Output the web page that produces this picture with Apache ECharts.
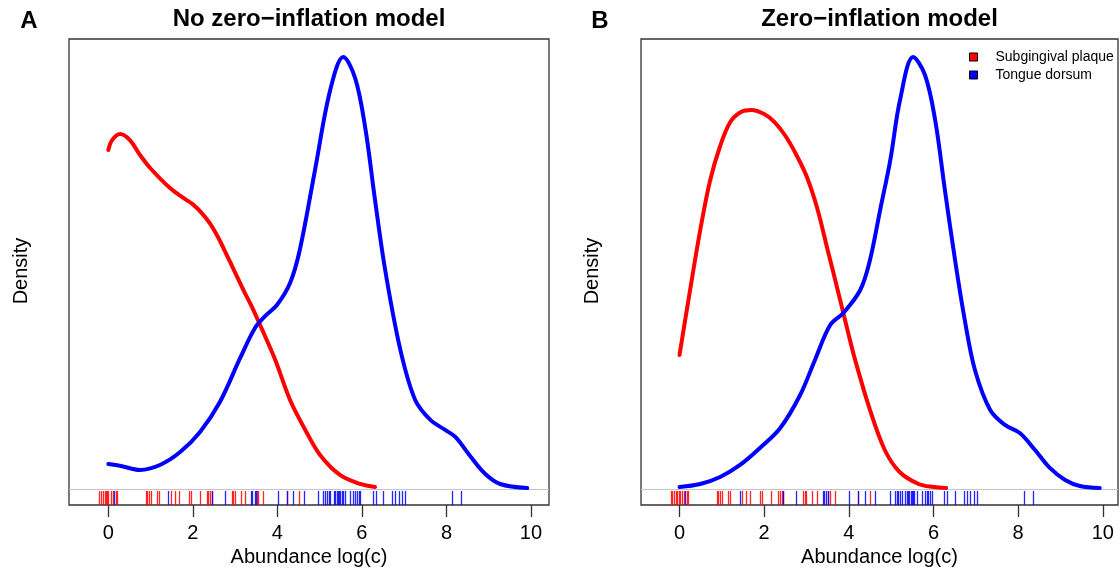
<!DOCTYPE html>
<html>
<head>
<meta charset="utf-8">
<title>Abundance density: no zero-inflation vs zero-inflation model</title>
<script src="https://cdn.jsdelivr.net/npm/echarts@6/dist/echarts.min.js"></script>
<style>
  html, body { margin: 0; padding: 0; background: #ffffff; }
  #chart { width: 1120px; height: 573px; }
</style>
</head>
<body>
<div id="chart"></div>
<script>
// ---- data -------------------------------------------------------------
const xTicks = [0, 2, 4, 6, 8, 10];
const groupNames = ['Subgingival plaque', 'Tongue dorsum'];
const panelTitles = ['No zero\u2212inflation model', 'Zero\u2212inflation model'];
const panelLetters = ['A', 'B'];

// kernel density estimates, [log abundance, density]
const noZiPlaque = [
  [0, 0.3531], [0.09, 0.3635], [0.28, 0.3698], [0.51, 0.3635], [0.75, 0.3479],
  [0.99, 0.3344], [1.46, 0.3135], [1.8, 0.3025], [2.0, 0.2965], [2.2, 0.2880],
  [2.4, 0.2770], [2.6, 0.2620], [2.8, 0.2440], [3.0, 0.2255], [3.2, 0.2070],
  [3.4, 0.1895], [3.6, 0.1700], [3.95, 0.1344], [4.30, 0.0927], [4.66, 0.0615],
  [5.01, 0.0354], [5.48, 0.0146], [5.96, 0.0052], [6.31, 0.0021]
];
const noZiTongue = [
  [0, 0.0260], [0.30, 0.0240], [0.75, 0.0198], [1.22, 0.0250], [1.70, 0.0385],
  [2.17, 0.0594], [2.64, 0.0906], [3.12, 0.1365], [3.47, 0.1677], [3.71, 0.1802],
  [3.99, 0.1917], [4.30, 0.2146], [4.53, 0.2490], [4.89, 0.3323], [5.25, 0.4156],
  [5.56, 0.4500], [5.84, 0.4281], [6.08, 0.3760], [6.31, 0.3010], [6.55, 0.2281],
  [6.91, 0.1448], [7.26, 0.0927], [7.62, 0.0719], [7.97, 0.0615], [8.21, 0.0542],
  [8.56, 0.0344], [8.92, 0.0156], [9.27, 0.0052], [9.91, 0.0010]
];
const ziPlaque = [
  [0, 0.1396], [0.25, 0.2073], [0.49, 0.2698], [0.72, 0.3208], [0.96, 0.3573],
  [1.2, 0.3823], [1.45, 0.3927], [1.7, 0.3948], [2.0, 0.3906], [2.25, 0.3820],
  [2.5, 0.3680], [2.75, 0.3490], [3.0, 0.3260], [3.25, 0.2930], [3.5, 0.2490],
  [3.75, 0.2050], [4.0, 0.1600], [4.15, 0.1344], [4.5, 0.0823], [4.85, 0.0406],
  [5.2, 0.0177], [5.65, 0.0052], [6.0, 0.0021], [6.3, 0.0010]
];
const ziTongue = [
  [0, 0.0021], [0.49, 0.0052], [0.96, 0.0125], [1.43, 0.0250], [1.90, 0.0427],
  [2.38, 0.0635], [2.85, 0.0979], [3.2, 0.1344], [3.56, 0.1708], [3.87, 0.1833],
  [4.27, 0.2073], [4.50, 0.2385], [4.74, 0.2906], [4.98, 0.3427], [5.21, 0.4052],
  [5.52, 0.4500], [5.80, 0.4313], [6.04, 0.3844], [6.27, 0.3115], [6.51, 0.2385],
  [6.74, 0.1760], [6.98, 0.1240], [7.34, 0.0823], [7.69, 0.0667], [8.04, 0.0583],
  [8.40, 0.0406], [8.75, 0.0219], [9.11, 0.0094], [9.46, 0.0031], [9.93, 0.0010]
];

// observed samples shown as rug marks
const rugPlaque = [
  -0.21, -0.17, -0.13, -0.08, -0.05, -0.02, 0, 0.07, 0.10, 0.18, 0.21,
  0.89, 0.92, 0.96, 1.01, 1.15, 1.19, 1.48, 1.58, 1.67, 1.90, 1.96,
  2.17, 2.33, 2.37, 2.41, 2.45, 2.92, 2.96, 3.0, 3.13, 3.24, 3.51, 3.55, 3.67,
  4.22, 4.50
];
const rugTongue = [
  0.14, 1.42, 2.45, 2.75, 3.38, 3.41, 3.46, 3.50, 4.01, 4.22, 4.38, 4.62,
  4.97, 5.09, 5.13, 5.17, 5.21, 5.25, 5.33, 5.37, 5.40, 5.43, 5.46, 5.49,
  5.52, 5.55, 5.60, 5.72, 5.80, 5.84, 5.88, 5.92, 5.96, 6.26, 6.33, 6.50,
  6.71, 6.79, 6.87, 6.95, 7.02, 8.13, 8.35
];

// ---- layout / style ---------------------------------------------------
const FONT = '"Liberation Sans", Arial, Helvetica, sans-serif';
const RED = '#ff0000';
const BLUE = '#0000ff';
const Y_MIN = -0.0167;
const Y_MAX = 0.4688;
const RUG_TOP = -0.0021;

const grids = [
  { left: 69, top: 39, width: 480, height: 466, xMin: -0.93, xMax: 10.426 },
  { left: 641, top: 39, width: 477, height: 466, xMin: -0.91, xMax: 10.36 }
];

function rugSeries(name, values, color, gi) {
  return {
    name: name,
    type: 'custom',
    xAxisIndex: gi,
    yAxisIndex: gi,
    silent: true,
    z: 2,
    data: values.map(v => [v]),
    renderItem: function (params, api) {
      const x = api.value(0);
      const p0 = api.coord([x, Y_MIN]);
      const p1 = api.coord([x, RUG_TOP]);
      const px = Math.round(p0[0]) + 0.5;
      return {
        type: 'line',
        shape: { x1: px, y1: p0[1], x2: px, y2: p1[1] },
        style: { stroke: color, lineWidth: 1.3, opacity: 0.85 }
      };
    }
  };
}

function densitySeries(name, data, color, gi, withZeroLine) {
  const s = {
    name: name,
    type: 'line',
    xAxisIndex: gi,
    yAxisIndex: gi,
    data: data,
    smooth: 0.35,
    showSymbol: false,
    symbol: 'none',
    z: 4,
    color: color,
    itemStyle: { color: color },
    lineStyle: { color: color, width: 4, cap: 'round', join: 'round' },
    emphasis: { disabled: true }
  };
  if (withZeroLine) {
    s.markLine = {
      silent: true,
      symbol: 'none',
      label: { show: false },
      lineStyle: { color: '#c4c4c4', width: 1, type: 'solid' },
      z: 1,
      data: [{ yAxis: 0 }]
    };
  }
  return s;
}

const xAxes = grids.map((g, i) => ({
  type: 'value',
  gridIndex: i,
  min: g.xMin,
  max: g.xMax,
  name: 'Abundance log(c)',
  nameLocation: 'middle',
  nameGap: 41,
  nameTextStyle: { fontSize: 20, color: '#000', fontFamily: FONT },
  axisLine: { show: false, onZero: false },
  splitLine: { show: false },
  axisTick: { show: true, customValues: xTicks, length: 12, lineStyle: { color: '#333', width: 1.3 } },
  axisLabel: { show: true, customValues: xTicks, margin: 18, fontSize: 20, color: '#000', fontFamily: FONT }
}));

const yAxes = grids.map((g, i) => ({
  type: 'value',
  gridIndex: i,
  min: Y_MIN,
  max: Y_MAX,
  show: false
}));

const graphics = [];
grids.forEach((g, i) => {
  graphics.push({
    type: 'text',
    x: g.left + g.width / 2,
    y: 19,
    style: {
      text: panelTitles[i], fontSize: 24, fontWeight: 'bold', fontFamily: FONT,
      fill: '#000', align: 'center', verticalAlign: 'middle'
    }
  });
  graphics.push({
    type: 'text',
    x: i === 0 ? 29 : 600,
    y: 21,
    style: {
      text: panelLetters[i], fontSize: 24, fontWeight: 'bold', fontFamily: FONT,
      fill: '#000', align: 'center', verticalAlign: 'middle'
    }
  });
  graphics.push({
    type: 'text',
    x: i === 0 ? 21 : 592,
    y: 271,
    rotation: Math.PI / 2,
    style: {
      text: 'Density', fontSize: 20, fontFamily: FONT,
      fill: '#000', align: 'center', verticalAlign: 'middle'
    }
  });
});

const chart = echarts.init(document.getElementById('chart'), null, { renderer: 'canvas' });
chart.setOption({
  backgroundColor: '#ffffff',
  animation: false,
  textStyle: { fontFamily: FONT },
  grid: grids.map(g => ({
    left: g.left, top: g.top, width: g.width, height: g.height,
    show: true, borderColor: '#333', borderWidth: 1.3, backgroundColor: 'transparent'
  })),
  xAxis: xAxes,
  yAxis: yAxes,
  legend: {
    data: groupNames,
    orient: 'vertical',
    left: 964,
    top: 45,
    padding: 5,
    icon: 'rect',
    itemWidth: 8,
    itemHeight: 8,
    itemGap: 4,
    selectedMode: false,
    itemStyle: { borderColor: '#000', borderWidth: 1 },
    textStyle: { fontSize: 14, color: '#000', fontFamily: FONT, lineHeight: 14, padding: [0, 0, 0, 13] }
  },
  graphic: graphics,
  series: [
    rugSeries('plaque samples A', rugPlaque, RED, 0),
    rugSeries('tongue samples A', rugTongue, BLUE, 0),
    densitySeries(groupNames[0], noZiPlaque, RED, 0, true),
    densitySeries(groupNames[1], noZiTongue, BLUE, 0, false),
    rugSeries('plaque samples B', rugPlaque, RED, 1),
    rugSeries('tongue samples B', rugTongue, BLUE, 1),
    densitySeries(groupNames[0], ziPlaque, RED, 1, true),
    densitySeries(groupNames[1], ziTongue, BLUE, 1, false)
  ]
});
</script>
</body>
</html>
